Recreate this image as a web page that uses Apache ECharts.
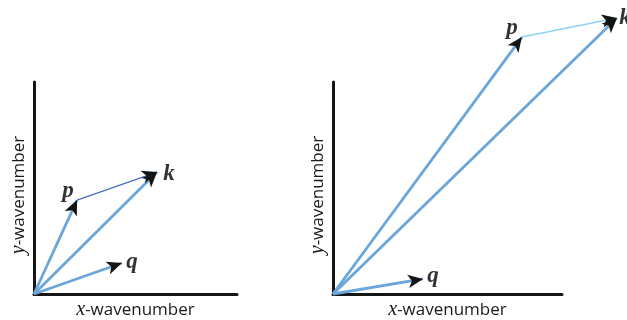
<!DOCTYPE html>
<html>
<head>
<meta charset="utf-8">
<script src="https://cdn.jsdelivr.net/npm/echarts@6/dist/echarts.min.js"></script>
<style>
  html, body { margin: 0; padding: 0; background: #fff; }
  #chart { width: 627px; height: 320px; }
</style>
</head>
<body>
<div id="chart"></div>
<script>
// Wave-vector triads: k = p + q, drawn from the origin of each panel.
// Each panel uses a 0..10 scale on both wavenumber axes.
const vectorNames = ['p', 'k', 'q'];

// Left panel: short p and k
const leftP = [2.12, 4.43];
const leftK = [6.06, 5.75];
const leftQ = [4.33, 1.46];

// Right panel: long p and k, reaching beyond the axes
const rightP = [8.25, 12.12];
const rightK = [12.40, 13.02];
const rightQ = [3.93, 0.71];

const axisMax = 10;

const VEC_BLUE = '#6aa6da';
const HEAD = '#141414';
const labelFont = '"Liberation Serif", "DejaVu Serif", serif';
const axisFont = '"Open Sans", "Noto Sans", sans-serif';

function axisName(letter) {
  return '{i|' + letter + '}-wavenumber';
}
const nameRich = {
  i: { fontFamily: labelFont, fontStyle: 'italic', fontSize: 20, color: '#1a1a1a' }
};

function xAxisFor(idx) {
  return {
    type: 'value', gridIndex: idx, min: 0, max: axisMax,
    axisLine: { show: true, lineStyle: { color: '#151515', width: 3 } },
    axisTick: { show: false }, axisLabel: { show: false }, splitLine: { show: false },
    name: axisName('x'), nameLocation: 'middle', nameGap: 6,
    nameTextStyle: { fontFamily: axisFont, fontSize: 17, color: '#1a1a1a', rich: nameRich }
  };
}
function yAxisFor(idx) {
  return {
    type: 'value', gridIndex: idx, min: 0, max: axisMax,
    axisLine: { show: true, lineStyle: { color: '#151515', width: 3 } },
    axisTick: { show: false }, axisLabel: { show: false }, splitLine: { show: false },
    name: axisName('y'), nameLocation: 'middle', nameGap: 5,
    nameTextStyle: { fontFamily: axisFont, fontSize: 17, color: '#1a1a1a', rich: nameRich,
                     padding: [0, 14, 0, 0] }
  };
}

const origin = [0, 0];

// Shaft segments (blue) and arrowhead-only copies (black)
function shafts(idx, vecs, color, width) {
  return {
    type: 'lines', coordinateSystem: 'cartesian2d', xAxisIndex: idx, yAxisIndex: idx,
    polyline: false, silent: true, clip: false, z: 2,
    symbol: ['none', 'none'],
    lineStyle: { color: color, width: width, opacity: 1 },
    data: vecs.map(v => ({ coords: [v[0], v[1]] }))
  };
}
function heads(idx, vecs) {
  return {
    type: 'lines', coordinateSystem: 'cartesian2d', xAxisIndex: idx, yAxisIndex: idx,
    polyline: false, silent: true, clip: false, z: 4,
    symbol: ['none', 'arrow'],
    symbolSize: [0, [10, 15]],
    symbolOffset: [[0, 0], [0, 7]],
    lineStyle: { color: HEAD, width: 0, opacity: 1 },
    data: vecs.map(v => ({ coords: [v[0], v[1]] }))
  };
}

// Label offsets for p, k, q in each panel
const leftLabelOffset = { p: [-9, -9], k: [12, 2], q: [10, -1] };
const rightLabelOffset = { p: [-10, -9], k: [8, 0], q: [10, -3] };

function labels(idx, tips, offsets) {
  return {
    type: 'scatter', xAxisIndex: idx, yAxisIndex: idx, symbolSize: 0, silent: true,
    clip: false, z: 5,
    data: tips.map((t, i) => ({
      name: vectorNames[i], value: t,
      label: {
        show: true, position: 'inside', formatter: '{b}',
        offset: offsets[vectorNames[i]],
        fontFamily: labelFont, fontStyle: 'italic', fontWeight: 'bold',
        fontSize: 23, color: '#000'
      }
    }))
  };
}

const leftTips = [leftP, leftK, leftQ];
const rightTips = [rightP, rightK, rightQ];

const option = {
  animation: false,
  backgroundColor: '#fff',
  grid: [
    { left: 34, top: 82, width: 203, height: 212, outerBoundsMode: 'none', containLabel: false },
    { left: 333, top: 82, width: 229, height: 212, outerBoundsMode: 'none', containLabel: false }
  ],
  xAxis: [xAxisFor(0), xAxisFor(1)],
  yAxis: [yAxisFor(0), yAxisFor(1)],
  series: [
    // origin → p, k, q
    shafts(0, leftTips.map(t => [origin, t]), VEC_BLUE, 2.8),
    shafts(1, rightTips.map(t => [origin, t]), VEC_BLUE, 2.8),
    // p → k connectors
    shafts(0, [[leftP, leftK]], '#4a6fb8', 1.3),
    shafts(1, [[rightP, rightK]], '#8fd2f2', 1.6),
    heads(0, leftTips.map(t => [origin, t]).concat([[leftP, leftK]])),
    heads(1, rightTips.map(t => [origin, t]).concat([[rightP, rightK]])),
    labels(0, leftTips, leftLabelOffset),
    labels(1, rightTips, rightLabelOffset)
  ]
};

const chart = echarts.init(document.getElementById('chart'), null, { renderer: 'canvas' });
chart.setOption(option);
</script>
</body>
</html>
